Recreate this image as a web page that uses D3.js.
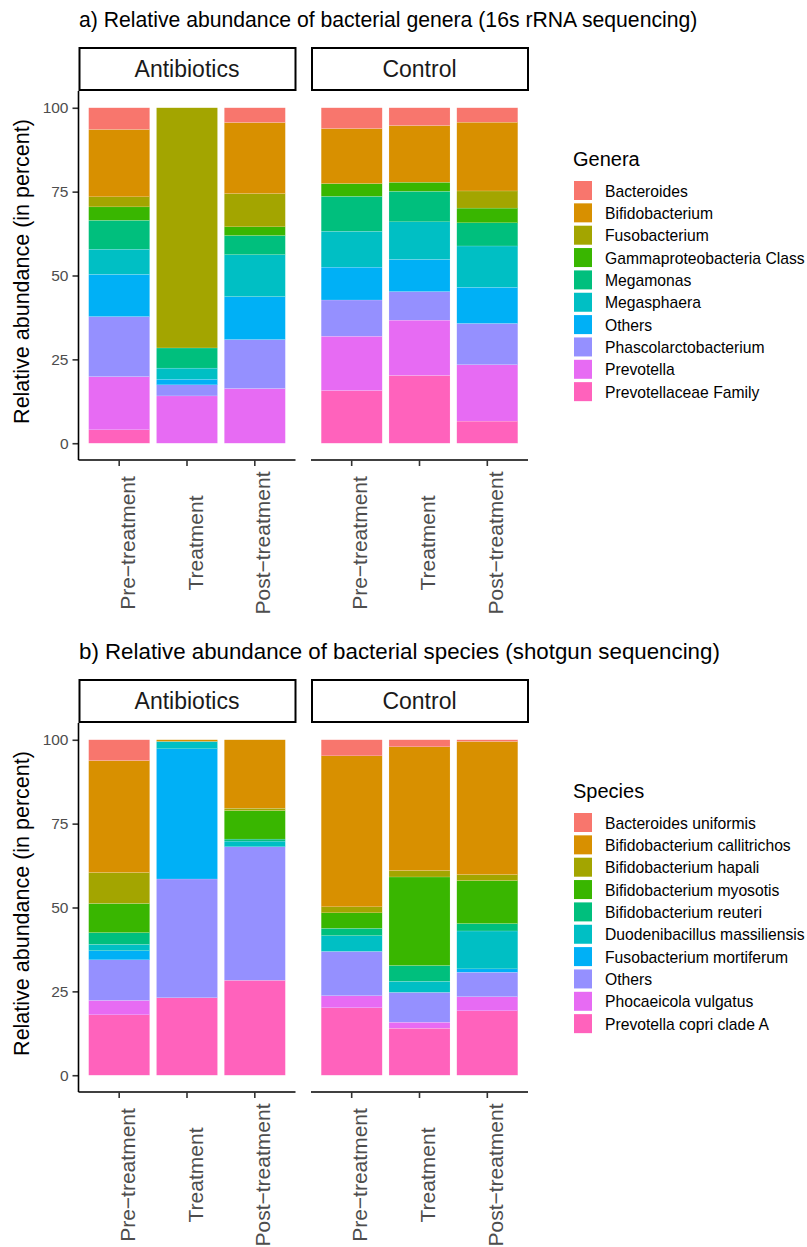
<!DOCTYPE html>
<html>
<head>
<meta charset="utf-8">
<script src="https://cdn.jsdelivr.net/npm/d3@7/dist/d3.min.js"></script>
<style>
  html, body { margin: 0; padding: 0; background: #fff; }
  text { font-family: "Liberation Sans", Arial, sans-serif; }
</style>
</head>
<body>
<svg id="chart" width="807" height="1247"></svg>
<script>
// facets and time points
const groups = ["Antibiotics", "Control"];
const timepoints = ["Pre\u2212treatment", "Treatment", "Post\u2212treatment"];
const yTicks = [0, 25, 50, 75, 100];

// ggplot default hue palette, 10 levels
const palette = ["#F8766D", "#D89000", "#A3A500", "#39B600", "#00BF7D",
                 "#00BFC4", "#00B0F6", "#9590FF", "#E76BF3", "#FF62BC"];

// panel a: genera, values per bar in order
// [Antibiotics Pre, Treatment, Post, Control Pre, Treatment, Post]
const genera = ["Bacteroides", "Bifidobacterium", "Fusobacterium", "Gammaproteobacteria Class",
                "Megamonas", "Megasphaera", "Others", "Phascolarctobacterium", "Prevotella",
                "Prevotellaceae Family"];
const bacteroides      = [6.45, 0,    4.4,  6.2,  5.3,  4.3];
const bifidobacterium  = [20.1, 0,    21.2, 16.4, 16.9, 20.5];
const fusobacterium    = [3.0,  71.6, 9.9,  0,    0,    5.1];
const gammaproteo      = [4.0,  0,    2.6,  3.8,  2.7,  4.4];
const megamonas        = [8.6,  6.0,  5.7,  10.4, 9.1,  6.9];
const megasphaera      = [7.5,  3.3,  12.5, 10.7, 11.2, 12.3];
const othersGenera     = [12.6, 1.7,  12.8, 9.8,  9.6,  10.8];
const phascolarcto     = [17.9, 3.3,  14.6, 10.8, 8.5,  12.3];
const prevotella       = [15.85, 14.1, 16.3, 16.2, 16.5, 16.8];
const prevotellaceae   = [4.0,  0,    0,    15.7, 20.2, 6.6];
const generaValues = [bacteroides, bifidobacterium, fusobacterium, gammaproteo, megamonas,
                      megasphaera, othersGenera, phascolarcto, prevotella, prevotellaceae];

// panel b: species
const species = ["Bacteroides uniformis", "Bifidobacterium callitrichos", "Bifidobacterium hapali",
                 "Bifidobacterium myosotis", "Bifidobacterium reuteri", "Duodenibacillus massiliensis",
                 "Fusobacterium mortiferum", "Others", "Phocaeicola vulgatus", "Prevotella copri clade A"];
const bUniformis    = [6.2,  0,    0,    4.8,  2.1,  0.5];
const bCallitrichos = [33.4, 0.5,  20.4, 45.0, 36.9, 39.7];
const bHapali       = [9.2,  0,    0.7,  1.8,  1.9,  1.8];
const bMyosotis     = [8.7,  0,    8.5,  4.6,  26.4, 12.8];
const bReuteri      = [3.5,  0,    0.6,  2.2,  4.7,  2.2];
const duodeni       = [1.9,  2.2,  1.7,  4.7,  3.3,  11.3];
const fMortiferum   = [2.7,  38.8, 0,    0,    0,    1.0];
const othersSpecies = [12.1, 35.4, 39.8, 13.2, 8.9,  7.3];
const phocaeicola   = [4.3,  0,    0,    3.6,  1.8,  4.2];
const prevCopri     = [18.0, 23.1, 28.3, 20.1, 14.0, 19.2];
const speciesValues = [bUniformis, bCallitrichos, bHapali, bMyosotis, bReuteri, duodeni,
                       fMortiferum, othersSpecies, phocaeicola, prevCopri];

const svg = d3.select("#chart");
svg.append("rect").attr("width", 807).attr("height", 1247).attr("fill", "#fff");

const facetX = [[78.5, 295.5], [311, 528]];

function drawPanel({ top, title, titleSize, names, values, legendTitle }) {
  const g = svg.append("g");
  const panelTop = top;
  const panelBottom = top + 369;

  g.append("text")
    .attr("x", 79).attr("y", panelTop - 64)
    .attr("font-size", titleSize).attr("fill", "#000")
    .text(title);

  const y = d3.scaleLinear().domain([-5, 105]).range([panelBottom, panelTop]);
  const color = d3.scaleOrdinal().domain(names).range(palette);

  groups.forEach((grp, gi) => {
    const [x0, x1] = facetX[gi];
    const x = d3.scaleBand().domain(timepoints).range([x0, x1])
      .paddingInner(0.1).paddingOuter(0.15);

    // strip
    g.append("rect")
      .attr("x", x0 + 1).attr("y", panelTop - 43)
      .attr("width", x1 - x0 - 1).attr("height", 42)
      .attr("fill", "#fff").attr("stroke", "#000").attr("stroke-width", 2);
    g.append("text")
      .attr("x", (x0 + x1) / 2).attr("y", panelTop - 14)
      .attr("text-anchor", "middle").attr("font-size", 23).attr("fill", "#1A1A1A")
      .text(grp);

    // stacked bars: first level on top, as in ggplot
    const rows = timepoints.map((tp, ti) => {
      const row = { tp };
      names.forEach((n, ni) => { row[n] = values[ni][gi * 3 + ti]; });
      return row;
    });
    const stack = d3.stack().keys(names.slice().reverse());
    const layers = stack(rows);

    g.append("g").selectAll("g")
      .data(layers)
      .join("g")
      .attr("fill", d => color(d.key))
      .selectAll("rect")
      .data(d => d.filter(s => s[1] - s[0] > 0))
      .join("rect")
      .attr("x", d => x(d.data.tp))
      .attr("width", x.bandwidth())
      .attr("y", d => y(d[1]))
      .attr("height", d => y(d[0]) - y(d[1]))
      .attr("stroke", "#fff").attr("stroke-width", 0.25).attr("stroke-opacity", 0.6);

    // x axis
    const xAxis = g.append("g").attr("transform", `translate(0,${panelBottom})`);
    xAxis.append("line")
      .attr("x1", x0).attr("x2", x1).attr("y1", 0).attr("y2", 0)
      .attr("stroke", "#000").attr("stroke-width", 1.6);
    timepoints.forEach(tp => {
      const cx = x(tp) + x.bandwidth() / 2;
      xAxis.append("line")
        .attr("x1", cx).attr("x2", cx).attr("y1", 0).attr("y2", 6)
        .attr("stroke", "#333").attr("stroke-width", 1.6);
      xAxis.append("text")
        .attr("transform", `translate(${cx + 15.5},83) rotate(-90)`)
        .attr("text-anchor", "middle").attr("font-size", 21).attr("fill", "#4D4D4D")
        .text(tp);
    });

    // y axis on the first facet only
    if (gi === 0) {
      const yAxis = g.append("g").attr("transform", `translate(${x0},0)`)
        .call(d3.axisLeft(y).tickValues(yTicks).tickSize(6).tickPadding(4));
      yAxis.select(".domain").remove();
      yAxis.selectAll(".tick line").attr("stroke", "#333").attr("stroke-width", 1.6);
      yAxis.selectAll(".tick text")
        .attr("font-size", 15.5).attr("fill", "#4D4D4D")
        .attr("font-family", "Liberation Sans, Arial, sans-serif");
      yAxis.append("line")
        .attr("x1", 0).attr("x2", 0).attr("y1", panelTop).attr("y2", panelBottom)
        .attr("stroke", "#000").attr("stroke-width", 1.6);
    }
  });

  // y axis title
  g.append("text")
    .attr("transform", `translate(29,${(panelTop + panelBottom) / 2 - 4}) rotate(-90)`)
    .attr("text-anchor", "middle").attr("font-size", 21.5).attr("fill", "#000")
    .text("Relative abundance (in percent)");

  // legend
  const legTop = panelTop + 90;
  const leg = g.append("g").attr("transform", `translate(574,${legTop})`);
  leg.append("text")
    .attr("x", -1).attr("y", -15)
    .attr("font-size", 20).attr("fill", "#000")
    .text(legendTitle);
  const items = leg.selectAll("g.item")
    .data(names)
    .join("g")
    .attr("class", "item")
    .attr("transform", (d, i) => `translate(0,${i * 22.35})`);
  items.append("rect")
    .attr("width", 18).attr("height", 19)
    .attr("fill", d => color(d));
  items.append("text")
    .attr("x", 31).attr("y", 10)
    .attr("dominant-baseline", "central")
    .attr("font-size", 15.7).attr("fill", "#000")
    .text(d => d);
}

drawPanel({
  top: 91,
  title: "a) Relative abundance of bacterial genera (16s rRNA sequencing)",
  titleSize: 21.2,
  names: genera,
  values: generaValues,
  legendTitle: "Genera"
});

drawPanel({
  top: 723,
  title: "b) Relative abundance of bacterial species (shotgun sequencing)",
  titleSize: 22.3,
  names: species,
  values: speciesValues,
  legendTitle: "Species"
});
</script>
</body>
</html>
